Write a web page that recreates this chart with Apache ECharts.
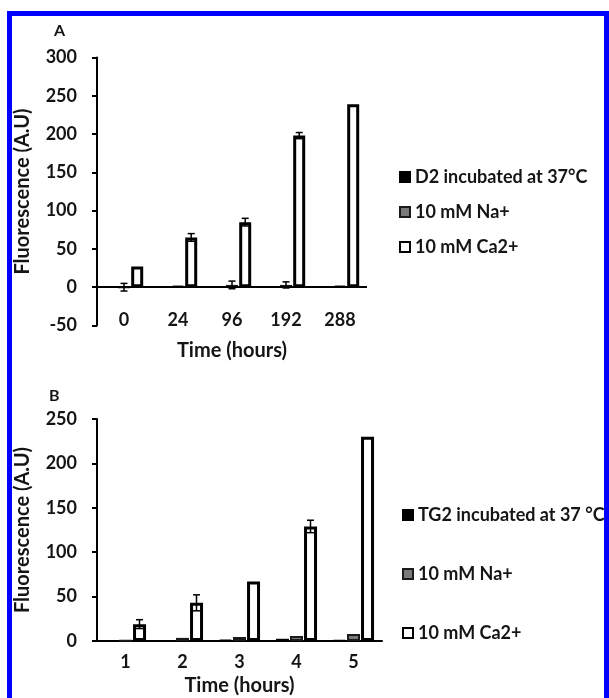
<!DOCTYPE html>
<html><head><meta charset="utf-8">
<script src="https://cdn.jsdelivr.net/npm/echarts@6/dist/echarts.min.js"></script>
<style>html,body{margin:0;padding:0;background:#fff}#c{width:609px;height:698px}</style>
</head><body><div id="c"></div>
<script>
// Panel A data
const catsA = ['0', '24', '96', '192', '288'];
const d2A = [0, 1, 1, 1, 0];
const naA = [0, 2, 3, 3, 2];
const caA = [27, 65, 85, 198, 239];
const naErrA = [5, 0, 5, 4, 0];
const caErrA = [0, 5, 5, 4, 0];
// Panel B data
const catsB = ['1', '2', '3', '4', '5'];
const tgB = [0.5, 0.5, 1.5, 2.5, 1];
const naB = [0.5, 3.5, 4.5, 5.5, 8];
const caB = [19, 43, 67, 129, 230];
const caErrB = [5, 9, 0, 7, 0];
const yTicksA = { min: -50, max: 300, interval: 50 };
const yTicksB = { min: 0, max: 250, interval: 50 };
const namesA = ['D2 incubated at 37°C', '10 mM Na+', '10 mM Ca2+'];
const namesB = ['TG2 incubated at 37 °C', '10 mM Na+', '10 mM Ca2+'];

const FONT = 'Lato';
const TXT = '#151515';
const chart = echarts.init(document.getElementById('c'), null, { renderer: 'canvas' });

function errSeries(xi, yi, vals, errs, offset) {
  const data = [];
  vals.forEach((v, i) => { if (errs[i] > 0) data.push([i, v, errs[i]]); });
  return {
    type: 'custom', xAxisIndex: xi, yAxisIndex: yi, z: 10, silent: true,
    data: data,
    renderItem: function (params, api) {
      const c = api.value(0), v = api.value(1), e = api.value(2);
      const top = api.coord([c, v + e]);
      const bot = api.coord([c, v - e]);
      const x = top[0] + offset;
      const hw = 3.5;
      const st = { stroke: '#000', lineWidth: 1.5 };
      return {
        type: 'group', children: [
          { type: 'line', shape: { x1: x, y1: top[1], x2: x, y2: bot[1] }, style: st },
          { type: 'line', shape: { x1: x - hw, y1: top[1], x2: x + hw, y2: top[1] }, style: st },
          { type: 'line', shape: { x1: x - hw, y1: bot[1], x2: x + hw, y2: bot[1] }, style: st }
        ]
      };
    }
  };
}

const blackStyle = { color: '#000', borderColor: '#000', borderWidth: 1.5 };
const grayStyle = { color: '#7a7a7a', borderColor: '#1a1a1a', borderWidth: 2 };
const whiteStyle = { color: '#fff', borderColor: '#000', borderWidth: 3 };

const axisLbl = { color: TXT, fontFamily: FONT, fontWeight: 'bold', fontSize: 18 };
const nameStyle = { color: TXT, fontFamily: FONT, fontWeight: 'bold', fontSize: 20 };

const option = {
  backgroundColor: '#fff',
  animation: false,
  textStyle: { fontFamily: FONT },
  title: [
    { text: 'A', left: 49, top: 18, textStyle: { fontFamily: FONT, fontWeight: 'bold', fontSize: 16, color: TXT } },
    { text: 'B', left: 44, top: 383, textStyle: { fontFamily: FONT, fontWeight: 'bold', fontSize: 16, color: TXT } }
  ],
  grid: [
    { left: 97, top: 57.5, width: 270, height: 268 },
    { left: 97, top: 419, width: 285, height: 222 }
  ],
  legend: [
    { data: namesA, orient: 'vertical', left: 394, top: 163, itemGap: 17, itemWidth: 10, itemHeight: 10,
      icon: 'rect', selectedMode: false,
      textStyle: { fontFamily: FONT, fontWeight: 'bold', fontSize: 18, color: TXT, padding: [0, 0, 0, 0] } },
    { data: namesB, orient: 'vertical', left: 397, top: 501, itemGap: 41, itemWidth: 10, itemHeight: 10,
      icon: 'rect', selectedMode: false,
      textStyle: { fontFamily: FONT, fontWeight: 'bold', fontSize: 18, color: TXT, padding: [0, 0, 0, 0] } }
  ],
  xAxis: [
    { type: 'category', gridIndex: 0, data: catsA, position: 'bottom',
      axisLine: { show: false, onZero: false }, axisTick: { show: false },
      axisLabel: Object.assign({ margin: -14 }, axisLbl),
      name: 'Time (hours)', nameLocation: 'middle', nameGap: 15, nameTextStyle: nameStyle },
    { type: 'category', gridIndex: 1, data: catsB,
      axisLine: { show: true, lineStyle: { color: '#000', width: 2 } }, axisTick: { show: false },
      axisLabel: Object.assign({ margin: 12 }, axisLbl),
      name: 'Time (hours)', nameLocation: 'middle', nameGap: 35, nameTextStyle: nameStyle }
  ],
  yAxis: [
    { type: 'value', gridIndex: 0, min: yTicksA.min, max: yTicksA.max, interval: yTicksA.interval,
      splitLine: { show: false },
      axisLine: { show: true, onZero: false, lineStyle: { color: '#000', width: 2 } },
      axisTick: { show: true, length: 5, lineStyle: { color: '#000', width: 2 } },
      axisLabel: Object.assign({ margin: 20 }, axisLbl),
      name: 'Fluorescence (A.U)', nameLocation: 'middle', nameGap: 64, nameTextStyle: nameStyle },
    { type: 'value', gridIndex: 1, min: yTicksB.min, max: yTicksB.max, interval: yTicksB.interval,
      splitLine: { show: false },
      axisLine: { show: true, onZero: false, lineStyle: { color: '#000', width: 2 } },
      axisTick: { show: true, length: 5, lineStyle: { color: '#000', width: 2 } },
      axisLabel: Object.assign({ margin: 20 }, axisLbl),
      name: 'Fluorescence (A.U)', nameLocation: 'middle', nameGap: 64, nameTextStyle: nameStyle }
  ],
  series: [
    { name: namesA[0], type: 'bar', xAxisIndex: 0, yAxisIndex: 0, data: d2A, barWidth: 12, barGap: '10%', itemStyle: blackStyle },
    { name: namesA[1], type: 'bar', xAxisIndex: 0, yAxisIndex: 0, data: naA, barWidth: 12, barGap: '10%', itemStyle: grayStyle },
    { name: namesA[2], type: 'bar', xAxisIndex: 0, yAxisIndex: 0, data: caA, barWidth: 12, barGap: '10%', itemStyle: whiteStyle,
      markLine: { silent: true, symbol: 'none', label: { show: false }, lineStyle: { color: '#000', width: 2, type: 'solid' },
        data: [{ yAxis: 0 }] } },
    { name: namesB[0], type: 'bar', xAxisIndex: 1, yAxisIndex: 1, data: tgB, barWidth: 13, barGap: '8%', itemStyle: blackStyle },
    { name: namesB[1], type: 'bar', xAxisIndex: 1, yAxisIndex: 1, data: naB, barWidth: 13, barGap: '8%', itemStyle: grayStyle },
    { name: namesB[2], type: 'bar', xAxisIndex: 1, yAxisIndex: 1, data: caB, barWidth: 13, barGap: '8%', itemStyle: whiteStyle },
    errSeries(0, 0, naA, naErrA, 0),
    errSeries(0, 0, caA, caErrA, 13.2),
    errSeries(1, 1, caB, caErrB, 14)
  ],
  graphic: [
    { type: 'rect', z: 100, shape: { x: 7, y: 11, width: 602, height: 5 }, style: { fill: '#0000ff' } },
    { type: 'rect', z: 100, shape: { x: 7, y: 11, width: 5, height: 687 }, style: { fill: '#0000ff' } },
    { type: 'rect', z: 100, shape: { x: 604, y: 11, width: 5, height: 687 }, style: { fill: '#0000ff' } }
  ]
};
chart.setOption(option);
</script></body></html>
